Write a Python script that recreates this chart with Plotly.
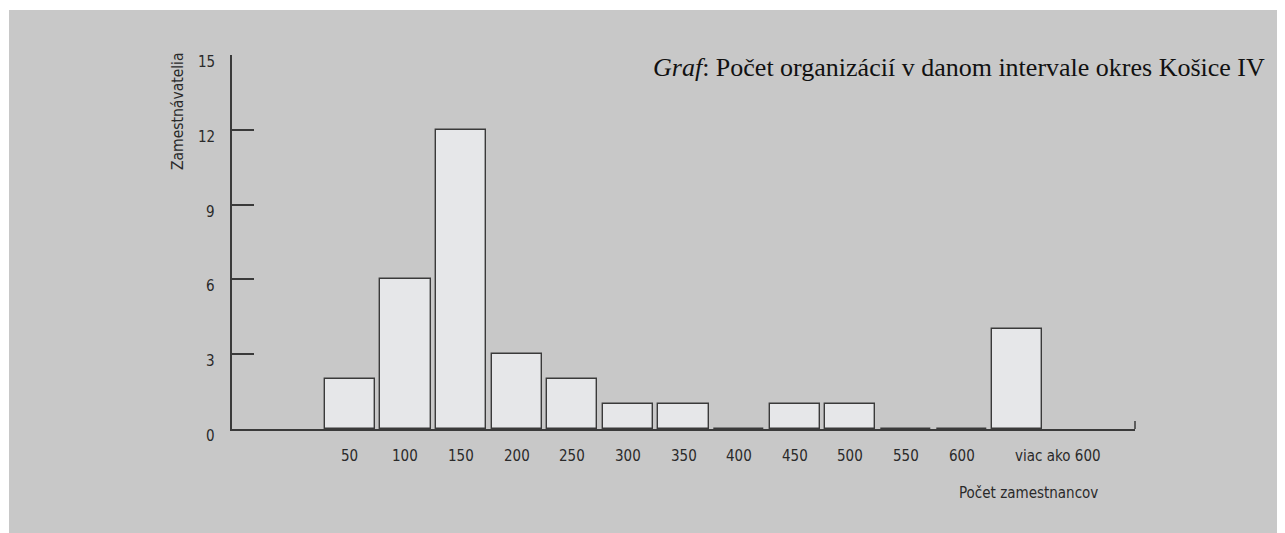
import plotly.graph_objects as go

categories = ["50", "100", "150", "200", "250", "300", "350", "400", "450", "500", "550", "600", "viac ako 600"]
values = [2, 6, 12, 3, 2, 1, 1, 0, 1, 1, 0, 0, 4]
y_ticks = [0, 3, 6, 9, 12, 15]
title_italic = "Graf"
title_rest = ": Počet organizácií v danom intervale okres Košice IV"
x_title = "Počet zamestnancov"
y_title = "Zamestnávatelia"

# page body has an 8px margin; figure sized to fit the 1285x533 window
W, H = 1277, 525
BG = "#c8c8c8"
LINE = "#3a3a3a"
SANS = "Liberation Sans Narrow, DejaVu Sans Condensed, Arial Narrow, sans-serif"
SERIF = "Liberation Serif, DejaVu Serif, serif"

L, R, T, B = 224, 150, 47, 104
PW, PH = W - L - R, H - T - B

xs = list(range(len(categories)))

fig = go.Figure()
fig.add_trace(go.Bar(
    x=xs, y=values, width=0.9,
    marker=dict(color="#e6e7e9", line=dict(color=LINE, width=1.4)),
    hoverinfo="skip",
))

annotations = []
for i, lab in enumerate(categories):
    shift = 41 if i == len(categories) - 1 else 0
    annotations.append(dict(
        x=i, y=0, xref="x", yref="y", text=lab, showarrow=False,
        yshift=-27, xshift=shift, font=dict(family=SANS, size=15, color="#2a2a2a"),
        xanchor="center", yanchor="middle",
    ))
for t in y_ticks:
    annotations.append(dict(
        x=0, y=t, xref="paper", yref="y", text=str(t), showarrow=False,
        xshift=-15, yshift=-7, font=dict(family=SANS, size=15, color="#2a2a2a"),
        xanchor="right", yanchor="middle",
    ))
annotations.append(dict(
    x=0, y=1, xref="paper", yref="paper", text=y_title, showarrow=False,
    textangle=-90, xshift=-54, yshift=5, xanchor="center", yanchor="top",
    font=dict(family=SANS, size=15.5, color="#2a2a2a"),
))
annotations.append(dict(
    x=len(categories) - 1, y=0, xref="x", yref="y", text=x_title, showarrow=False,
    xshift=83, yshift=-64, xanchor="right", yanchor="middle",
    font=dict(family=SANS, size=15, color="#2a2a2a"),
))
annotations.append(dict(
    x=1, y=1, xref="paper", yref="paper",
    text=f"<i>{title_italic}</i>{title_rest}", showarrow=False,
    xshift=132, yshift=-12, xanchor="right", yanchor="middle",
    font=dict(family=SERIF, size=26, color="#111111"),
))

shapes = [
    dict(type="rect", xref="paper", yref="paper", x0=(1 - L) / PW, x1=(W - L + 5) / PW,
         y0=-(B + 5) / PH, y1=(PH + T - 2) / PH, fillcolor=BG, line=dict(width=0), layer="below"),
    dict(type="line", xref="paper", yref="y", x0=1, x1=1, y0=0, y1=0.32,
         line=dict(color=LINE, width=1.5)),
]

fig.update_layout(
    width=W, height=H,
    margin=dict(l=L, r=R, t=T, b=B, pad=0),
    paper_bgcolor="white", plot_bgcolor="rgba(0,0,0,0)",
    showlegend=False, bargap=0,
    annotations=annotations, shapes=shapes,
    xaxis=dict(range=[-2.12, 14.12], showgrid=False, zeroline=False, showline=True,
               linecolor=LINE, linewidth=1.5, showticklabels=False, ticks=""),
    yaxis=dict(range=[0, 15], showgrid=False, zeroline=False, showline=True,
               linecolor=LINE, linewidth=1.5, showticklabels=False,
               ticks="inside", ticklen=22, tickcolor=LINE, tickwidth=1.5,
               tickvals=y_ticks),
)

fig.write_html("out.html")
